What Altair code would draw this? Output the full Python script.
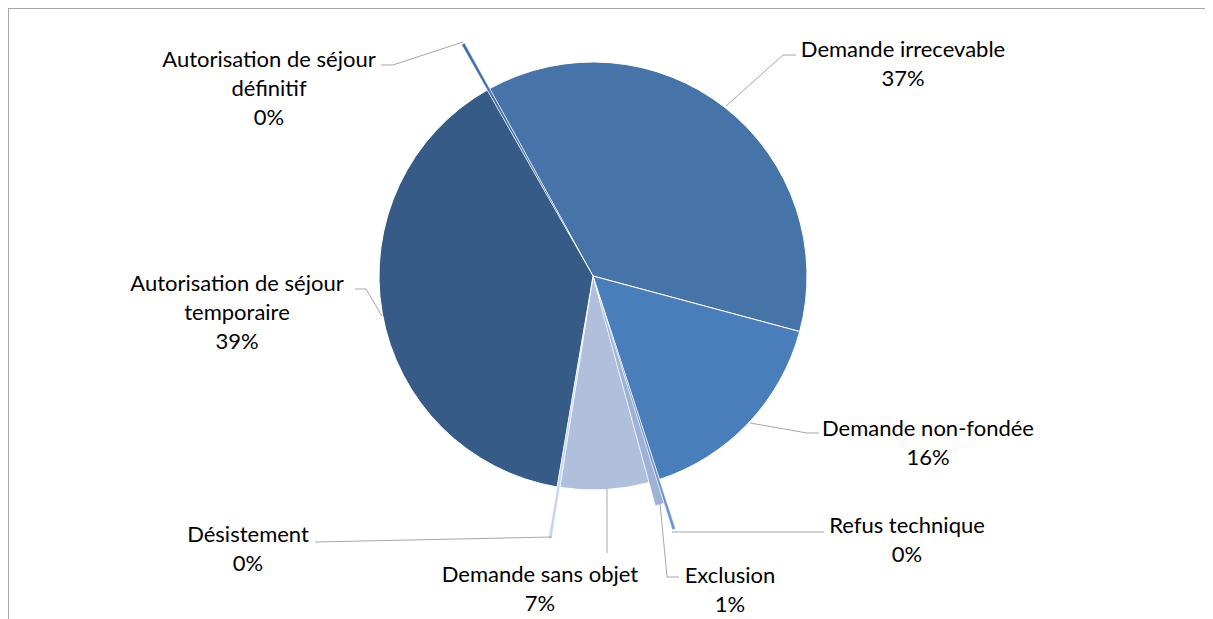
import math
import altair as alt
import pandas as pd

# ---------------- data ----------------
categories = [
    "Autorisation de séjour définitif",
    "Demande irrecevable",
    "Demande non-fondée",
    "Refus technique",
    "Exclusion",
    "Demande sans objet",
    "Désistement",
    "Autorisation de séjour temporaire",
]
display_names = [
    "Autorisation de séjour\ndéfinitif",
    "Demande irrecevable",
    "Demande non-fondée",
    "Refus technique",
    "Exclusion",
    "Demande sans objet",
    "Désistement",
    "Autorisation de séjour\ntemporaire",
]
values = [0.2, 37.2, 15.8, 0.2, 0.6, 6.7, 0.2, 39.1]

# ---------------- style / layout ----------------
colors = ["#3F6FA6", "#4673A8", "#4A7EBB", "#6E93CC", "#9DB3D6", "#B0C0DC", "#C6D5EE", "#375B87"]
exploded_far = ["Autorisation de séjour définitif", "Refus technique", "Désistement"]
exploded_near = ["Exclusion"]
W, H = 1197, 611
CX, CY, R = 585, 268, 214
start_deg = -29.6
t0 = math.radians(start_deg)

# label anchors (page pixels: centre x, first baseline y)
label_pos = {
    "Autorisation de séjour définitif": (269, 67),
    "Demande irrecevable": (903, 57),
    "Demande non-fondée": (928, 436),
    "Refus technique": (907, 533),
    "Exclusion": (730, 583),
    "Demande sans objet": (540, 582),
    "Désistement": (248, 542),
    "Autorisation de séjour temporaire": (237, 291),
}
# leader line polylines (page pixels)
leaders = {
    "Autorisation de séjour définitif": [(463, 42), (393, 65), (381, 65)],
    "Demande irrecevable": [(726, 106), (783, 55), (796, 55)],
    "Demande non-fondée": [(750, 423), (807, 433), (819, 433)],
    "Refus technique": [(672, 532), (824, 532)],
    "Exclusion": [(660, 503), (667, 577), (679, 577)],
    "Demande sans objet": [(607, 489), (607, 553)],
    "Désistement": [(552, 537), (315, 542)],
    "Autorisation de séjour temporaire": [(355, 289), (366, 289), (382, 316)],
}

df = pd.DataFrame({
    "cat": categories,
    "value": values,
    "order": list(range(len(categories))),
    "label": [f"{n}\n{round(v):d}%" for n, v in zip(display_names, values)],
})

lab_df = df.copy()
lab_df["lx"] = [label_pos[c][0] for c in categories]
lab_df["ly"] = [label_pos[c][1] for c in categories]

lead_rows = []
for c in categories:
    for i, (px, py) in enumerate(leaders[c]):
        lead_rows.append({"cat": c, "seq": i, "px": px, "py": py})
lead_df = pd.DataFrame(lead_rows)

xs = alt.Scale(domain=[8, 8 + W], range=[0, W], zero=False, nice=False)
ys = alt.Scale(domain=[8, 8 + H], range=[0, H], zero=False, nice=False)
theta_scale = alt.Scale(domain=[0, 100], range=[t0, t0 + 2 * math.pi])
color_scale = alt.Scale(domain=categories, range=colors)

base = (
    alt.Chart(df)
    .transform_window(cum="sum(value)", sort=[alt.SortField("order")], frame=[None, 0])
    .transform_calculate(start="datum.cum - datum.value")
)

arc_enc = dict(
    theta=alt.Theta("start:Q", scale=theta_scale),
    theta2="cum:Q",
    color=alt.Color("cat:N", scale=color_scale, legend=None),
    x=alt.value(CX),
    y=alt.value(CY),
)

main = (
    base.transform_filter(
        ~alt.FieldOneOfPredicate(field="cat", oneOf=exploded_far + exploded_near)
    )
    .mark_arc(radius=R, stroke="#FFFFFF", strokeWidth=1)
    .encode(**arc_enc)
)
far = (
    base.transform_filter(alt.FieldOneOfPredicate(field="cat", oneOf=exploded_far))
    .mark_arc(radius=R + 52, radius2=52, stroke="#FFFFFF", strokeWidth=0.5)
    .encode(**arc_enc)
)
near = (
    base.transform_filter(alt.FieldOneOfPredicate(field="cat", oneOf=exploded_near))
    .mark_arc(radius=R + 24, radius2=24, stroke="#FFFFFF", strokeWidth=0.5)
    .encode(**arc_enc)
)

lines = (
    alt.Chart(lead_df)
    .mark_line(color="#A6A6A6", strokeWidth=1)
    .encode(
        x=alt.X("px:Q", scale=xs, axis=None),
        y=alt.Y("py:Q", scale=ys, axis=None),
        detail="cat:N",
        order="seq:O",
    )
)

texts = (
    alt.Chart(lab_df)
    .mark_text(
        align="center",
        baseline="alphabetic",
        font="Lato",
        fontSize=22,
        lineHeight=29,
        lineBreak="\n",
        color="#000000",
    )
    .encode(
        x=alt.X("lx:Q", scale=xs, axis=None),
        y=alt.Y("ly:Q", scale=ys, axis=None),
        text="label:N",
    )
)

frame_top = alt.Chart(df).mark_rule(color="#A6A6A6", strokeWidth=2).encode(
    x=alt.value(0), x2=alt.value(W), y=alt.value(0)
)
frame_left = alt.Chart(df).mark_rule(color="#A6A6A6", strokeWidth=2).encode(
    x=alt.value(0), y=alt.value(0), y2=alt.value(H)
)

chart = (
    alt.layer(frame_top, frame_left, main, far, near, lines, texts)
    .resolve_scale(color="shared")
    .properties(width=W, height=H, padding=0, autosize="none")
    .configure_view(stroke=None)
)

chart.save("out.html", embed_options={"renderer": "svg", "actions": False})
